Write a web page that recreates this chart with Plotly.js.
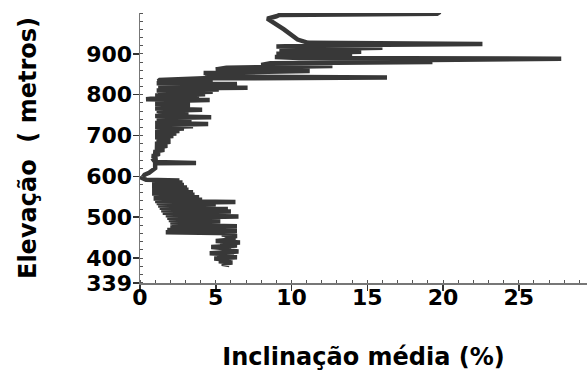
<!DOCTYPE html>
<html>
<head>
<meta charset="utf-8">
<script src="https://cdn.plot.ly/plotly-3.0.1.min.js"></script>
<style>html,body{margin:0;padding:0;background:#fff;}#chart{width:587px;height:371px;}</style>
</head>
<body>
<div id="chart"></div>
<script>
// Elevation (m) along the profile, and mean inclination (%) at each point
const elevacao = [
  383,386,389,392,395,399,402,406,409,412,416,420,423,427,431,435,438,442,446,450,454,458,461,
  463,466,469,472,475,478,481,484,487,490,493,496,499,502,505,508,511,514,517,520,523,526,529,532,535,537,540,543,546,549,552,555,558,561,564,567,570,573,576,579,582,585,588,590,
  592,596,600,604,609,614,620,626,632,633,635,640,645,650,655,660,665,670,675,680,685,
  690,693,696,699,702,705,708,711,714,717,720,723,726,728,731,734,737,740,743,745,748,751,754,757,760,763,766,769,772,775,778,781,784,787,789,792,795,798,801,804,807,810,813,815,817,820,823,826,828,831,833,
  836,840,842,845,849,853,858,862,866,870,873,877,880,884,888,890,892,896,900,905,910,915,918,921,924,927,935,960,986,992,995,998,1003
];
const inclinacao = [
  5.9,5.4,6.1,5.2,6.0,4.9,6.4,5.1,6.2,4.6,6.5,5.5,6.0,4.7,6.4,5.3,6.6,5.0,6.3,5.6,6.4,5.4,6.2,
  1.7,6.4,1.8,5.2,2.0,6.4,2.1,5.0,2.0,5.3,1.9,4.6,1.8,6.5,1.7,5.5,1.5,6.0,1.4,5.8,1.3,4.6,1.2,5.0,1.1,6.3,1.0,4.1,0.9,3.9,0.9,3.6,0.8,3.5,0.8,3.2,0.8,3.1,0.8,2.9,0.8,2.8,0.8,2.6,
  0.4,0.15,0.2,0.3,0.6,0.8,1.0,1.0,1.0,3.7,1.0,0.9,1.1,0.8,1.3,0.9,1.6,1.0,1.8,1.0,2.0,
  1.1,2.0,1.0,2.2,1.0,2.4,1.0,2.6,1.1,2.9,1.0,3.5,1.2,4.5,1.0,3.0,1.1,3.4,1.2,4.7,1.0,3.2,1.2,3.0,1.1,4.1,1.0,2.8,1.2,3.3,1.0,3.0,1.1,4.6,0.4,1.2,3.9,1.0,4.3,1.2,4.8,1.1,5.2,1.2,7.1,1.2,5.4,6.4,1.1,4.8,1.2,
  1.3,4.2,16.3,4.3,6.0,4.2,11.2,5.0,5.7,12.7,8.0,8.6,19.3,15.6,27.8,10.5,8.9,14.0,9.0,14.6,9.2,16.0,9.0,12.0,22.6,11.1,10.4,9.5,8.4,9.0,9.2,19.6,19.8
];
const xTicks = [0, 5, 10, 15, 20, 25];
const yTicks = [339, 400, 500, 600, 700, 800, 900];

const tickFont = {family: 'DejaVu Sans', size: 22, color: '#000', weight: 'bold'};
const titleFont = {family: 'DejaVu Sans', size: 24, color: '#000', weight: 'bold'};

const trace = {
  x: inclinacao,
  y: elevacao,
  type: 'scatter',
  mode: 'lines',
  line: {color: '#383838', width: 4.5},
  hoverinfo: 'skip'
};

const layout = {
  width: 587, height: 371,
  margin: {l: 140, r: 0, t: 13, b: 88},
  paper_bgcolor: '#fff', plot_bgcolor: '#fff',
  showlegend: false,
  xaxis: {
    range: [0, 29.5],
    tickmode: 'array', tickvals: xTicks, ticktext: xTicks.map(String),
    ticks: 'outside', ticklen: 6, tickwidth: 1.5, tickcolor: '#333',
    ticklabelstandoff: -12,
    minor: {tickmode: 'linear', tick0: 0, dtick: 1, ticks: 'inside', ticklen: 3, tickwidth: 1, tickcolor: '#555', showgrid: false},
    showline: true, linecolor: '#777', linewidth: 1.5,
    showgrid: false, zeroline: false,
    tickfont: tickFont,
    title: {text: 'Inclinação média (%)', font: titleFont, standoff: 56}
  },
  yaxis: {
    range: [339, 1000],
    tickmode: 'array', tickvals: yTicks, ticktext: yTicks.map(String),
    ticks: 'outside', ticklen: 6, tickwidth: 1.5, tickcolor: '#333',
    ticklabelstandoff: -4,
    minor: {tickmode: 'linear', tick0: 0, dtick: 20, ticks: 'inside', ticklen: 3, tickwidth: 1, tickcolor: '#555', showgrid: false},
    showline: true, linecolor: '#777', linewidth: 1.5,
    showgrid: false, zeroline: false,
    tickfont: tickFont,
    title: {text: 'Elevação\u00a0\u00a0( metros)', font: titleFont, standoff: 43}
  }
};

Plotly.newPlot('chart', [trace], layout, {displayModeBar: false, staticPlot: true});
</script>
</body>
</html>
